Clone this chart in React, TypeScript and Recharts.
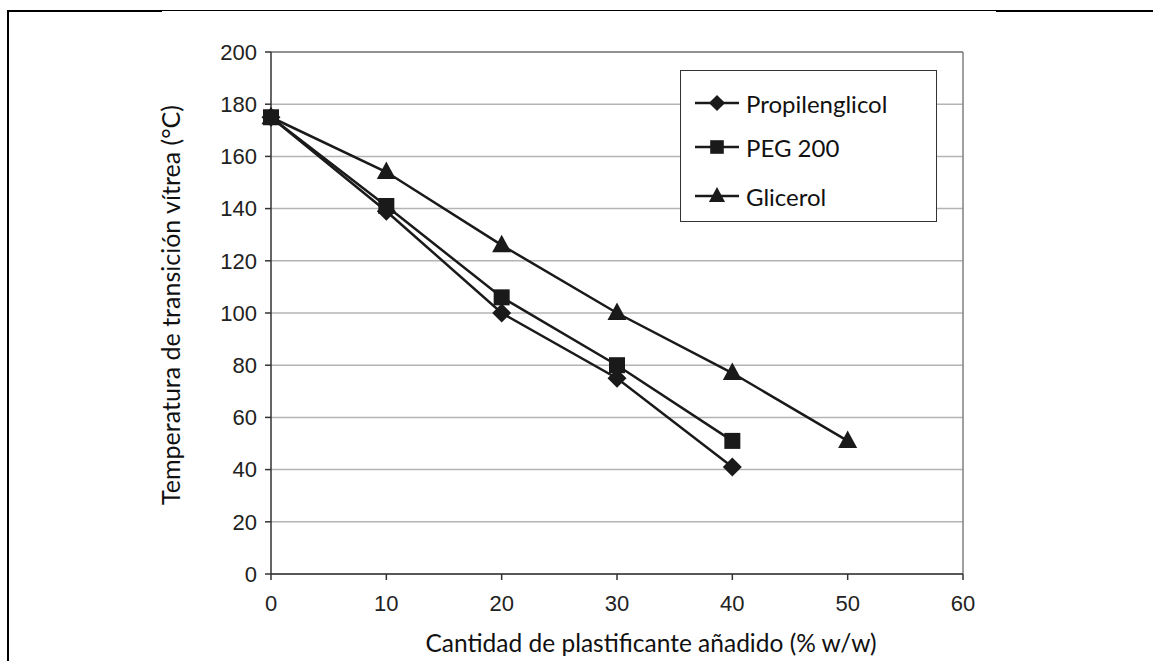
import React from 'react'
import { LineChart, Line, XAxis, YAxis, CartesianGrid, Legend, ReferenceLine, Label } from 'recharts'

// cantidad de plastificante (% w/w)
const cantidad = [0, 10, 20, 30, 40, 50]
const propilenglicol = [175, 139, 100, 75, 41]
const peg200 = [175, 141, 106, 80, 51]
const glicerol = [175, 154, 126, 100, 77, 51]

const xTicks = [0, 10, 20, 30, 40, 50, 60]
const yTicks = [0, 20, 40, 60, 80, 100, 120, 140, 160, 180, 200]

const series = [
  { key: 'propilenglicol', name: 'Propilenglicol', shape: 'diamond' },
  { key: 'peg200', name: 'PEG 200', shape: 'square' },
  { key: 'glicerol', name: 'Glicerol', shape: 'triangle' },
]

const data = cantidad.map((x, i) => ({
  x,
  propilenglicol: propilenglicol[i] ?? null,
  peg200: peg200[i] ?? null,
  glicerol: glicerol[i] ?? null,
}))

const INK = '#1a1a1a'
const TEXT_FONT = 'Lato, "Noto Sans", sans-serif'
const TICK_FONT = '"Liberation Sans", Arial, sans-serif'

function Marker({ cx, cy, shape, s = 1 }: { cx: number; cy: number; shape: string; s?: number }) {
  if (cx == null || cy == null) return null
  if (shape === 'diamond') {
    const r = 9.5 * s
    return <polygon points={`${cx},${cy - r} ${cx + r},${cy} ${cx},${cy + r} ${cx - r},${cy}`} fill={INK} />
  }
  if (shape === 'square') {
    const h = 8 * s
    return <rect x={cx - h} y={cy - h} width={h * 2} height={h * 2} fill={INK} />
  }
  const w = 9.5 * s
  return <polygon points={`${cx},${cy - 10.5 * s} ${cx + w},${cy + 7 * s} ${cx - w},${cy + 7 * s}`} fill={INK} />
}

function makeDot(shape: string) {
  return (props: any) => {
    if (props.value == null) return <g key={props.key} />
    return <Marker key={props.key} cx={props.cx} cy={props.cy} shape={shape} />
  }
}

function LegendBox() {
  return (
    <div
      style={{
        width: 257,
        height: 152,
        boxSizing: 'border-box',
        border: '1.5px solid #333',
        background: '#fff',
        fontFamily: TEXT_FONT,
        fontSize: 24,
        color: '#111',
        position: 'relative',
      }}
    >
      {series.map((s, i) => (
        <div key={s.key} style={{ position: 'absolute', left: 13, top: [18, 62, 111][i], display: 'flex', alignItems: 'center', height: 28 }}>
          <svg width={46} height={28}>
            <line x1={1} y1={14} x2={45} y2={14} stroke={INK} strokeWidth={2.5} />
            <Marker cx={23} cy={14} shape={s.shape} s={0.85} />
          </svg>
          <span style={{ marginLeft: 6 }}>{s.name}</span>
        </div>
      ))}
    </div>
  )
}

export default function App() {
  return (
    <div style={{ position: 'absolute', left: 0, top: 0, width: 1154, height: 661, background: '#fff', overflow: 'hidden' }}>
      {/* marco de la tabla */}
      <div style={{ position: 'absolute', left: 7, top: 10, width: 155, height: 2, background: '#000' }} />
      <div style={{ position: 'absolute', left: 162, top: 10, width: 834, height: 1, background: '#000' }} />
      <div style={{ position: 'absolute', left: 996, top: 10, width: 157, height: 2, background: '#000' }} />
      <div style={{ position: 'absolute', left: 7, top: 10, width: 2, height: 651, background: '#000' }} />

      <div style={{ position: 'absolute', left: 0, top: 0 }}>
        <LineChart width={1154} height={661} data={data} margin={{ top: 52, right: 191, bottom: 57, left: 211 }}>
          <CartesianGrid horizontal vertical={false} stroke="#b4b4b4" strokeWidth={1.5} />
          <ReferenceLine y={200} stroke="#808080" strokeWidth={1.5} />
          <ReferenceLine x={60} stroke="#808080" strokeWidth={1.5} />
          <XAxis
            dataKey="x"
            type="number"
            domain={[0, 60]}
            ticks={xTicks}
            height={30}
            tickSize={6}
            tickMargin={15}
            stroke="#333"
            strokeWidth={1.5}
            tick={{ fontSize: 22, fill: '#222', fontFamily: TICK_FONT }}
          >
            <Label
              content={(p: any) => {
                const vb = p.viewBox
                return (
                  <text x={vb.x + vb.width / 2 + 34} y={vb.y + 78} textAnchor="middle" fontFamily={TEXT_FONT} fontSize={24.5} fill="#111">
                    Cantidad de plastificante añadido (% w/w)
                  </text>
                )
              }}
            />
          </XAxis>
          <YAxis
            type="number"
            domain={[0, 200]}
            ticks={yTicks}
            width={60}
            tickSize={6}
            tickMargin={8}
            stroke="#333"
            strokeWidth={1.5}
            tick={{ fontSize: 22, fill: '#222', fontFamily: TICK_FONT }}
          >
            <Label
              content={(p: any) => {
                const vb = p.viewBox
                const cx = vb.x - 41
                const cy = vb.y + vb.height / 2 - 8
                return (
                  <text x={cx} y={cy} transform={`rotate(-90 ${cx} ${cy})`} textAnchor="middle" dominantBaseline="central" fontFamily={TEXT_FONT} fontSize={25} fill="#111">
                    Temperatura de transición vítrea (°C)
                  </text>
                )
              }}
            />
          </YAxis>
          <Legend
            layout="vertical"
            align="center"
            verticalAlign="middle"
            content={() => <LegendBox />}
            wrapperStyle={{ left: 680, top: 70, width: 257, height: 152 }}
          />
          {series.map((s) => (
            <Line
              key={s.key}
              type="linear"
              dataKey={s.key}
              name={s.name}
              stroke={INK}
              strokeWidth={2.5}
              dot={makeDot(s.shape)}
              activeDot={false}
              connectNulls={false}
              isAnimationActive={false}
            />
          ))}
        </LineChart>
      </div>
    </div>
  )
}
